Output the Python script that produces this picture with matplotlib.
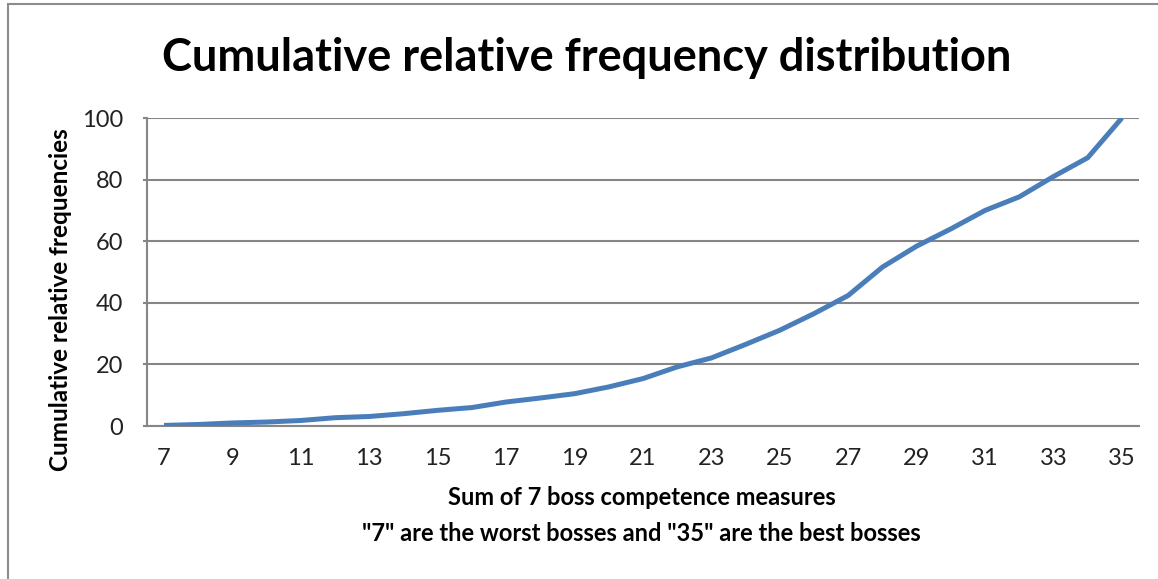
import matplotlib.pyplot as plt
from matplotlib.patches import Rectangle

# sum of 7 boss competence measures (categories) and cumulative relative freq (%)
scores = list(range(7, 36))
cum_freq = [0.2, 0.5, 1.0, 1.3, 1.8, 2.7, 3.1, 4.0, 5.1, 6.0, 7.8, 9.1, 10.5, 12.7,
            15.4, 19.2, 22.1, 26.5, 31.1, 36.5, 42.4, 51.6, 58.4, 64.0, 70.0, 74.4,
            81.0, 87.1, 100.0]
y_ticks = [0, 20, 40, 60, 80, 100]

plt.rcParams['font.family'] = ['Lato', 'DejaVu Sans']

fig = plt.figure(figsize=(11.58, 5.79), dpi=100)
ax = fig.add_axes([0.1269, 0.2642, 0.8567, 0.532])

# chart border (top and left visible only)
fig.patches.append(Rectangle((8 / 1158, -0.1), 1.2, 1 - 4 / 579 + 0.1,
                             transform=fig.transFigure, fill=False,
                             edgecolor='#8c8c8c', linewidth=1.5))

pos = list(range(len(scores)))
ax.plot(pos, cum_freq, color='#4a7ebb', linewidth=3.6, solid_capstyle='butt', zorder=3)

ax.set_xlim(-0.5, len(scores) - 0.5)
ax.set_ylim(0, 100)
ax.set_yticks(y_ticks)
ax.set_xticks(pos[::2])
ax.set_xticklabels([str(s) for s in scores[::2]])

ax.grid(axis='y', color='#868686', linewidth=1.5)
ax.set_axisbelow(True)
for side in ['top', 'right']:
    ax.spines[side].set_visible(False)
for side in ['left', 'bottom']:
    ax.spines[side].set_color('#868686')
    ax.spines[side].set_linewidth(1.5)

ax.tick_params(axis='y', length=3, width=1.5, color='#868686', pad=14, labelsize=17, labelcolor='#222222')
ax.tick_params(axis='x', length=0, pad=16, labelsize=17, labelcolor='#222222')

fig.text(0.507, 0.90, 'Cumulative relative frequency distribution', ha='center', va='center',
         fontsize=32.5, fontweight='bold')
fig.text(0.554, 0.141, 'Sum of 7 boss competence measures', ha='center', va='center',
         fontsize=17, fontweight='bold')
fig.text(0.554, 0.078, '"7" are the worst bosses and "35" are the best bosses', ha='center',
         va='center', fontsize=17, fontweight='bold')
fig.text(0.052, 0.482, 'Cumulative relative frequencies', ha='center', va='center',
         rotation=90, fontsize=17.5, fontweight='bold')

fig.savefig('out.png', dpi=100)
